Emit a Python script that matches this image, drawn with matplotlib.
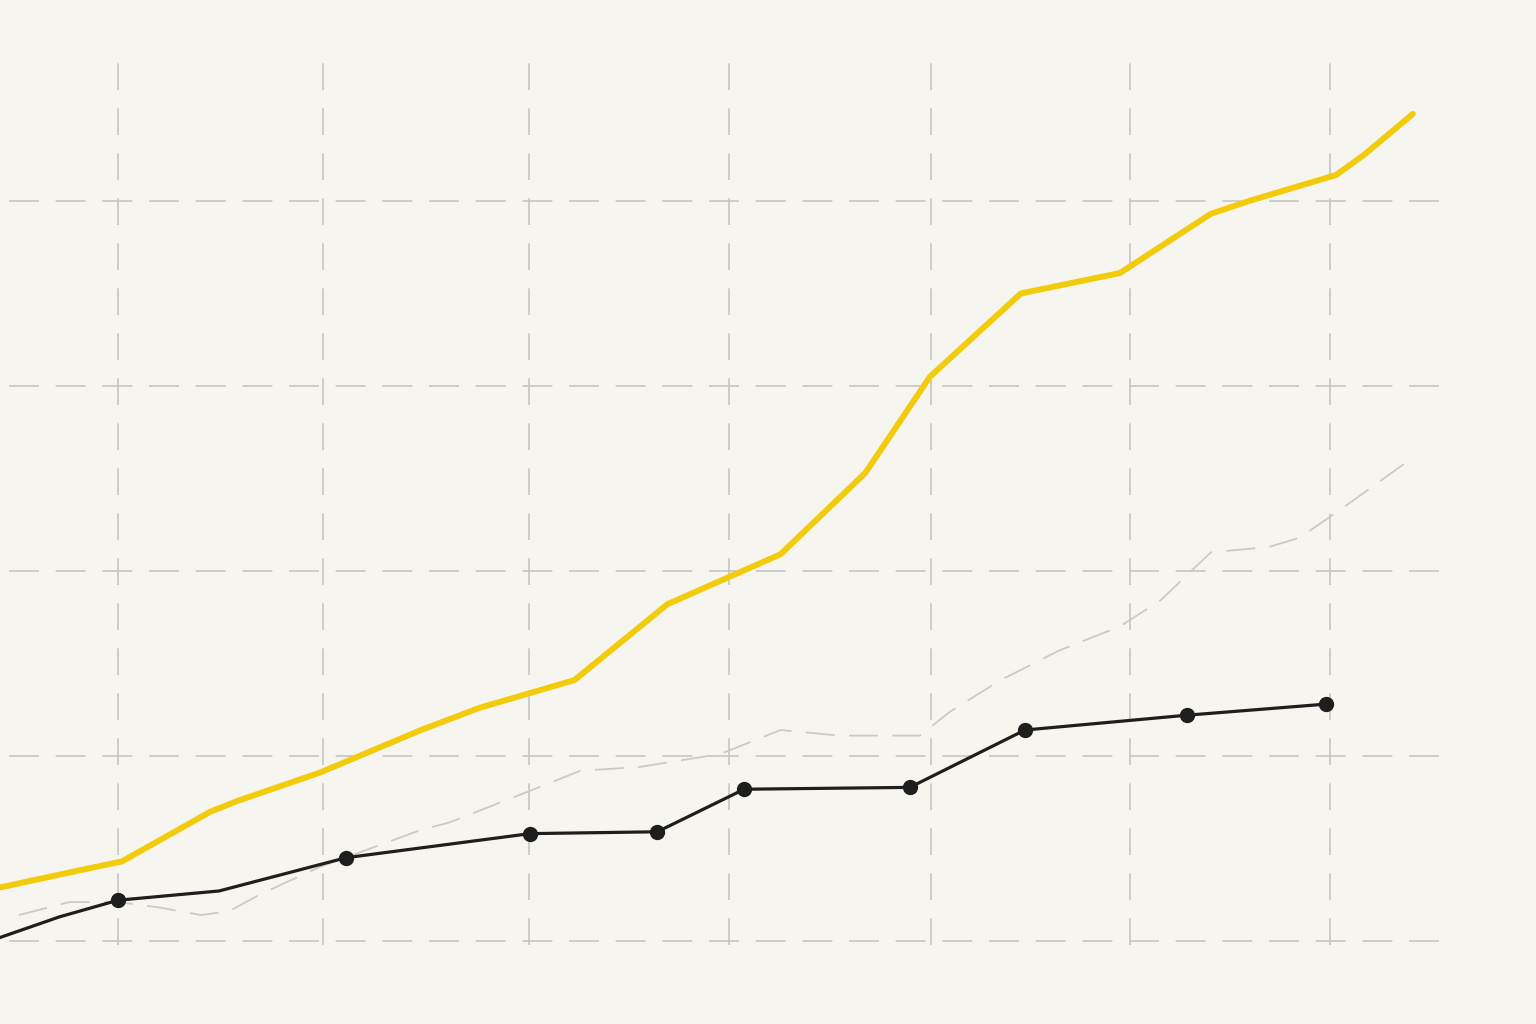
import matplotlib.pyplot as plt

# yellow series
yel_x = [-0.58, -0.24, 0.02, 0.46, 0.60, 1.00, 1.50, 1.79, 2.26, 2.72, 3.28, 3.70, 4.02, 4.47, 4.96, 5.41, 5.60, 6.03, 6.17, 6.41]
yel_y = [0.29, 0.37, 0.43, 0.70, 0.76, 0.91, 1.14, 1.26, 1.41, 1.82, 2.09, 2.53, 3.05, 3.50, 3.61, 3.93, 4.00, 4.14, 4.25, 4.47]

# black series (markers only on the measured points)
blk_x = [-0.58, -0.29, 0.00, 0.50, 1.13, 2.04, 2.67, 3.10, 3.92, 4.49, 5.29, 5.98]
blk_y = [0.02, 0.13, 0.22, 0.27, 0.45, 0.58, 0.59, 0.82, 0.83, 1.14, 1.22, 1.28]
blk_mark = [2, 4, 5, 6, 7, 8, 9, 10, 11]

# faint dashed series
gry_x = [-0.49, -0.24, 0.00, 0.21, 0.41, 0.55, 0.70, 1.00, 1.50, 1.64, 1.99, 2.29, 2.58, 2.98, 3.28, 3.57, 3.97, 4.12, 4.37, 4.66, 4.96, 5.16, 5.41, 5.70, 5.85, 6.05, 6.42]
gry_y = [0.14, 0.21, 0.21, 0.18, 0.14, 0.16, 0.25, 0.40, 0.60, 0.64, 0.79, 0.92, 0.94, 1.01, 1.14, 1.11, 1.11, 1.24, 1.41, 1.57, 1.70, 1.84, 2.10, 2.13, 2.18, 2.33, 2.62]

grid_x = [0, 1.015, 2.035, 3.025, 4.025, 5.01, 6.0]
grid_y = [0, 1, 2, 3, 4]

bg = '#f7f5f0'
fig = plt.figure(figsize=(15.36, 10.24), dpi=100, facecolor=bg)
ax = fig.add_axes([0, 0, 1, 1])
ax.set_facecolor(bg)

ax.vlines(grid_x, -0.02, 4.78, colors='#c6c5c1', linewidth=1.2, linestyles=(0, (16, 11)), zorder=1)
ax.hlines(grid_y, -0.54, 6.55, colors='#c6c5c1', linewidth=1.2, linestyles=(0, (18, 10)), zorder=1)

ax.plot(gry_x, gry_y, color='#cbcac6', linewidth=1.3, linestyle=(0, (16, 8)), zorder=2)
ax.plot(blk_x, blk_y, color='#1e1e1e', linewidth=2.3, marker='o', markersize=10,
        markevery=blk_mark, solid_joinstyle='round', zorder=3)
ax.plot(yel_x, yel_y, color='#f2cc0c', linewidth=4.3, solid_capstyle='round',
        solid_joinstyle='round', zorder=4)

ax.set_xlim(-0.584, 7.02)
ax.set_ylim(-0.449, 5.086)
ax.axis('off')

fig.savefig('out.png', dpi=100, facecolor=bg)
